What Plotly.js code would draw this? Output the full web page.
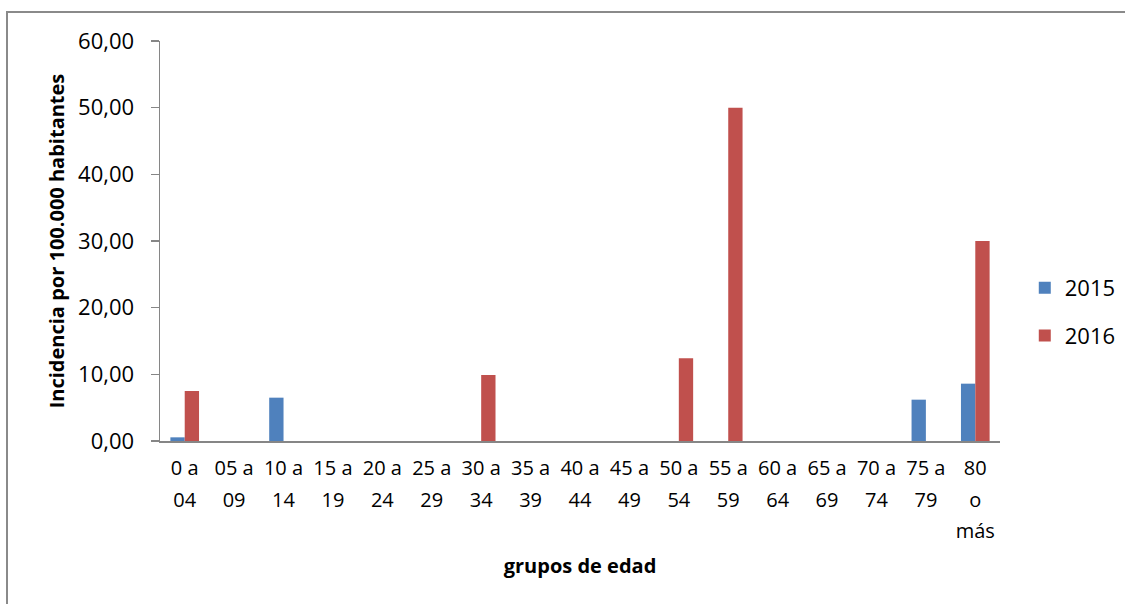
<!DOCTYPE html>
<html>
<head>
<meta charset="utf-8">
<script src="https://cdn.plot.ly/plotly-3.0.1.min.js"></script>
<style>
  html, body { margin:0; padding:0; background:#fff; }
  #wrap { position:relative; width:1125px; height:604px; overflow:hidden; }
  #frame { position:absolute; left:6px; top:11px; width:1200px; height:700px;
           border-left:2px solid #8a8a8a; border-top:2px solid #8a8a8a; pointer-events:none; }
  #chart { position:absolute; left:0; top:0; width:1125px; height:604px; }
</style>
</head>
<body>
<div id="wrap">
  <div id="chart"></div>
  <div id="frame"></div>
</div>
<script>
const categories = ["0 a 04","05 a 09","10 a 14","15 a 19","20 a 24","25 a 29","30 a 34","35 a 39",
  "40 a 44","45 a 49","50 a 54","55 a 59","60 a 64","65 a 69","70 a 74","75 a 79","80 o más"];
const tickLabels = ["0 a|04","05 a|09","10 a|14","15 a|19","20 a|24","25 a|29","30 a|34","35 a|39",
  "40 a|44","45 a|49","50 a|54","55 a|59","60 a|64","65 a|69","70 a|74","75 a|79","80|o|más"];
const values2015 = [0.55,0,6.5,0,0,0,0,0,0,0,0,0,0,0,0,6.2,8.6];
const values2016 = [7.5,0,0,0,0,0,9.9,0,0,0,12.4,50.0,0,0,0,0,30.0];
const seriesNames = ["2015","2016"];
const colors = ["#4F81BD","#C0504D"];

const FONT = "Open Sans, DejaVu Sans, sans-serif";
const tickText = tickLabels.map(t => t.split("|").map(s => '<span style="font-size:20px">'+s+'</span>').join("<br>"));

const traces = [values2015, values2016].map((v,i) => ({
  type:"bar", x:categories, y:v, name:seriesNames[i], legendgroup:seriesNames[i],
  marker:{color:colors[i], line:{width:0}}, hoverinfo:"x+y"
}));

const layout = {
  width:1125, height:604,
  margin:{l:160, r:125, t:41, b:163, pad:0, autoexpand:false},
  paper_bgcolor:"#ffffff", plot_bgcolor:"#ffffff",
  separators:",.",
  font:{family:FONT, color:"#000"},
  barmode:"group", bargap:0.42, bargroupgap:0,
  showlegend:true,
  legend:{x:1.0295, xanchor:"left", y:0.3225, yanchor:"middle", font:{size:22, family:FONT},
          tracegroupgap:16, traceorder:"grouped", bgcolor:"rgba(0,0,0,0)"},
  xaxis:{type:"category", tickmode:"array", tickvals:categories, ticktext:tickText,
         tickfont:{size:24, family:FONT, color:"#000"}, tickangle:0,
         showline:true, linecolor:"#868686", linewidth:1.5, ticks:"", showgrid:false, zeroline:false,
         fixedrange:true, automargin:false, ticklabelstandoff:4,
         title:{text:"<b>grupos de edad</b>", font:{size:20, family:FONT}, standoff:16}},
  yaxis:{range:[0,60], dtick:10, tickformat:".2f", tickfont:{size:22, family:FONT, color:"#000"},
         showline:true, linecolor:"#868686", linewidth:1.5, ticks:"outside", ticklen:8, tickcolor:"#868686",
         tickwidth:1.5, showgrid:false, zeroline:false, fixedrange:true, automargin:false,
         ticklabelstandoff:12,
         title:{text:"<b>Incidencia por 100.000 habitantes</b>", font:{size:20, family:FONT}, standoff:8}}
};
Plotly.newPlot("chart", traces, layout, {displayModeBar:false, staticPlot:true});
</script>
</body>
</html>
